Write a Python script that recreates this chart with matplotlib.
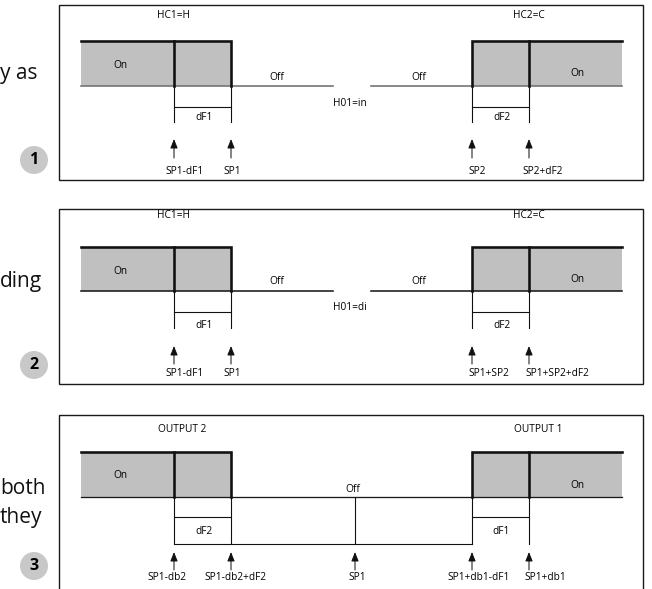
import matplotlib.pyplot as plt
from matplotlib.patches import Rectangle, Circle

# Diagram coordinates are in image pixels (x right, y down)
# switching points, shared by the three panels
x_gray_left = 81
x_gray_right = 622
sp_left = [174, 231]     # left output: lower / upper threshold
sp_right = [472, 529]    # right output: lower / upper threshold
sp_mid = 355             # SP1 in the dead band panel

top_labels = [["HC1=H", "HC2=C"], ["HC1=H", "HC2=C"], ["OUTPUT 2", "OUTPUT 1"]]
mid_labels = ["H01=in", "H01=di", None]
df_labels = [["dF1", "dF2"], ["dF1", "dF2"], ["dF2", "dF1"]]
arrow_labels = [
    ["SP1-dF1", "SP1", "SP2", "SP2+dF2"],
    ["SP1-dF1", "SP1", "SP1+SP2", "SP1+SP2+dF2"],
    ["SP1-db2", "SP1-db2+dF2", "SP1", "SP1+db1-dF1", "SP1+db1"],
]
arrow_label_x = [
    [185, 232, 477, 543],
    [185, 232, 489, 557],
    [167, 236, 357, 479, 545],
]
side_text = [["y as"], ["ding"], ["both", "they"]]
numbers = ["1", "2", "3"]

# per panel layout (pixels)
box_top = [5, 209, 415]
box_bot = [180, 384, 600]
lab_y = [15, 215, 429]
gray_top = [41, 247, 452]
base_y = [86, 291, 497]
brk_y = [107, 312, 517]
brk_bot = [122, 328, 544]
df_y = [118, 325, 531]
arr_tail = [158, 364, 570]
arr_head = [139, 346, 552]
arr_lab_y = [172, 373, 578]
on_y = [[65, 74], [271, 279], [475, 485]]
off_y = [77, 281, 489]
side_y = [[74], [282], [488, 517]]
num_y = [160, 365, 566]

plt.rcParams['font.family'] = ['Open Sans', 'DejaVu Sans']
fs = 7.3

fig = plt.figure(figsize=(6.52, 5.89), dpi=100)
ax = fig.add_axes([0, 0, 1, 1])
ax.set_xlim(0, 652)
ax.set_ylim(589, 0)
ax.axis('off')

px = 0.72  # points per pixel at 100 dpi

for p in range(3):
    # frame
    ax.add_patch(Rectangle((59, box_top[p]), 643 - 59, box_bot[p] - box_top[p],
                           fill=False, ec='#1a1a1a', lw=1.4 * px, zorder=2))
    gt, by = gray_top[p], base_y[p]
    # gray "On" areas
    ax.add_patch(Rectangle((x_gray_left, gt), sp_left[1] - x_gray_left, by - gt,
                           fc='#c0c0c0', ec='none', zorder=1))
    ax.add_patch(Rectangle((sp_right[0], gt), x_gray_right - sp_right[0], by - gt,
                           fc='#c0c0c0', ec='none', zorder=1))
    base_col = '#707070' if p == 0 else '#1a1a1a'
    # baseline
    if p < 2:
        ax.plot([x_gray_left, 333], [by, by], color=base_col, lw=1.6 * px, zorder=2)
        ax.plot([371, x_gray_right], [by, by], color=base_col, lw=1.6 * px, zorder=2)
    else:
        ax.plot([x_gray_left, x_gray_right], [by, by], color=base_col, lw=1.3 * px, zorder=2)
    # thick outlines
    ax.plot([x_gray_left, sp_left[1], sp_left[1]], [gt, gt, by], color='#111111',
            lw=2.6 * px, zorder=3, solid_joinstyle='miter')
    ax.plot([sp_left[0], sp_left[0]], [gt, by], color='#111111', lw=2.6 * px, zorder=3)
    ax.plot([sp_right[0], sp_right[0], x_gray_right], [by, gt, gt], color='#111111',
            lw=2.6 * px, zorder=3, solid_joinstyle='miter')
    ax.plot([sp_right[1], sp_right[1]], [gt, by], color='#111111', lw=2.6 * px, zorder=3)
    # dF brackets
    for pair in (sp_left, sp_right):
        for xx in pair:
            ax.plot([xx, xx], [by, brk_bot[p]], color='#111111', lw=1.1 * px, zorder=2)
        ax.plot(pair, [brk_y[p], brk_y[p]], color='#111111', lw=1.1 * px, zorder=2)
    ax.text((sp_left[0] + sp_left[1]) / 2 + 2, df_y[p], df_labels[p][0], fontsize=fs,
            ha='center', va='center')
    ax.text((sp_right[0] + sp_right[1]) / 2 + 1, df_y[p], df_labels[p][1], fontsize=fs,
            ha='center', va='center')
    # arrows
    if p < 2:
        arrow_x = sp_left + sp_right
    else:
        arrow_x = [sp_left[0], sp_left[1], sp_mid, sp_right[0], sp_right[1]]
        ax.plot([sp_left[0], sp_right[0]], [brk_bot[p], brk_bot[p]], color='#111111',
                lw=1.1 * px, zorder=2)
        ax.plot([sp_mid, sp_mid], [by, brk_bot[p]], color='#111111', lw=1.1 * px, zorder=2)
    for xx, lab, lx in zip(arrow_x, arrow_labels[p], arrow_label_x[p]):
        ax.annotate('', xy=(xx, arr_head[p]), xytext=(xx, arr_tail[p]),
                    arrowprops=dict(arrowstyle='-|>,head_length=0.55,head_width=0.22',
                                    color='#111111', lw=1.0 * px, shrinkA=0, shrinkB=0))
        ax.text(lx, arr_lab_y[p], lab, fontsize=fs, ha='center', va='center')
    # text labels
    ax.text(173 if p < 2 else 182, lab_y[p], top_labels[p][0], fontsize=fs,
            ha='center', va='center')
    ax.text(529 if p < 2 else 538, lab_y[p], top_labels[p][1], fontsize=fs,
            ha='center', va='center')
    ax.text(120, on_y[p][0], "On", fontsize=fs, ha='center', va='center')
    ax.text(577, on_y[p][1], "On", fontsize=fs, ha='center', va='center')
    if p < 2:
        ax.text(277, off_y[p], "Off", fontsize=fs, ha='center', va='center')
        ax.text(419, off_y[p], "Off", fontsize=fs, ha='center', va='center')
        ax.text(350, base_y[p] + 17, mid_labels[p], fontsize=fs, ha='center', va='center')
    else:
        ax.text(353, off_y[p], "Off", fontsize=fs, ha='center', va='center')
    # left column: cut-off page text and step numbers
    for t, ty in zip(side_text[p], side_y[p]):
        ax.text(0, ty, t, fontsize=15, ha='left', va='center', color='#111111')
    ax.add_patch(Circle((34, num_y[p]), 14, fc='#c8c8c8', ec='none', zorder=1))
    ax.text(34, num_y[p], numbers[p], fontsize=11.5, fontweight='bold', ha='center',
            va='center', zorder=2)

fig.savefig('out.png', dpi=100)
